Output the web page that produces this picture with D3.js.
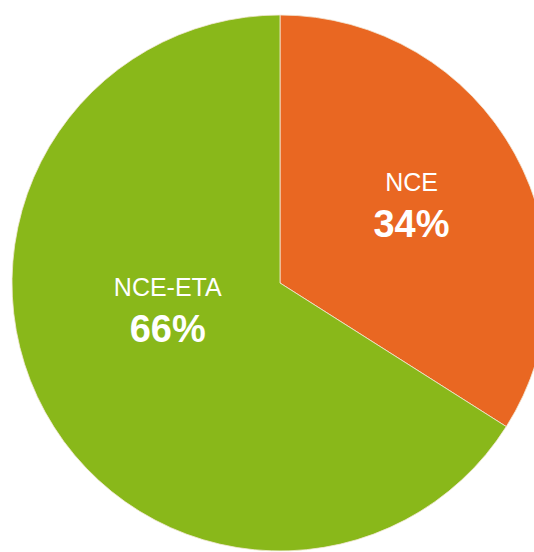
<!DOCTYPE html>
<html>
<head>
<meta charset="utf-8">
<script src="https://cdn.jsdelivr.net/npm/d3@7"></script>
<style>
  body { margin: 0; background: #fff; overflow: hidden; }
  text { font-family: "Liberation Sans", Arial, sans-serif; fill: #fff; }
</style>
</head>
<body>
<div id="container"></div>
<script>
let svgWidth = 534;
let svgHeight = 552;

// data
let categories = ["NCE", "NCE-ETA"];
let shares = [34, 66];
let colors = ["#e96722", "#89b81a"];

let cx = 280, cy = 283, radius = 268;

let viz = d3.select("#container")
  .append("svg")
    .attr("width", svgWidth)
    .attr("height", svgHeight);

let g = viz.append("g").attr("transform", `translate(${cx},${cy})`);

let pie = d3.pie().sort(null).value(d => d.value);
let arcs = pie(categories.map((c, i) => ({ name: c, value: shares[i], color: colors[i] })));

let arcGen = d3.arc().innerRadius(0).outerRadius(radius);

g.selectAll("path")
  .data(arcs)
  .enter().append("path")
    .attr("d", arcGen)
    .attr("fill", d => d.data.color)
    .attr("stroke", "#f3e9d6")
    .attr("stroke-width", 0.8);

// label placement: orange sits on its mid-angle, green is pulled in toward the centre
let labelRadius = [0.56, 0.437];
let labelShift = [0, 0.213]; // radians added to the mid-angle

let labels = g.selectAll("g.label")
  .data(arcs)
  .enter().append("g")
    .attr("class", "label")
    .attr("transform", (d, i) => {
      let a = (d.startAngle + d.endAngle) / 2 + labelShift[i];
      let r = radius * labelRadius[i];
      return `translate(${Math.sin(a) * r},${-Math.cos(a) * r})`;
    });

labels.append("text")
  .attr("text-anchor", "middle")
  .attr("y", -20)
  .style("font-size", "25px")
  .text(d => d.data.name);

labels.append("text")
  .attr("text-anchor", "middle")
  .attr("y", 26)
  .style("font-size", "38px")
  .style("font-weight", "bold")
  .text(d => d.data.value + "%");
</script>
</body>
</html>
